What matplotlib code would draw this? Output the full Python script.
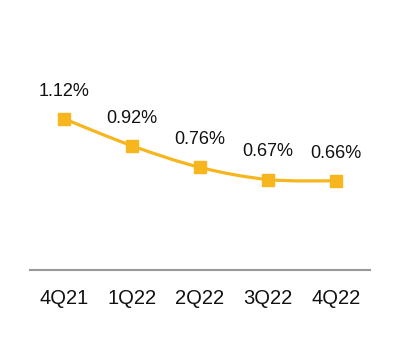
import numpy as np
import matplotlib
matplotlib.use("Agg")
import matplotlib.pyplot as plt
from matplotlib.path import Path
from matplotlib.patches import PathPatch

quarters = ["4Q21", "1Q22", "2Q22", "3Q22", "4Q22"]
ratio = [1.12, 0.92, 0.76, 0.67, 0.66]
labels = ["1.12%", "0.92%", "0.76%", "0.67%", "0.66%"]

gold = "#F7B51E"
plt.rcParams["font.family"] = ["Liberation Sans", "DejaVu Sans"]

fig = plt.figure(figsize=(4, 3.4), dpi=100)
ax = fig.add_axes([0.075, 0.206, 0.85, 0.794])

x = np.arange(len(quarters))
y = np.array(ratio)

# smooth curve through the points (catmull-rom as cubic bezier segments)
verts = [(x[0], y[0])]
codes = [Path.MOVETO]
for i in range(len(x) - 1):
    p0 = (x[max(i - 1, 0)], y[max(i - 1, 0)])
    p1 = (x[i], y[i])
    p2 = (x[i + 1], y[i + 1])
    p3 = (x[min(i + 2, len(x) - 1)], y[min(i + 2, len(x) - 1)])
    c1 = (p1[0] + (p2[0] - p0[0]) / 6, p1[1] + (p2[1] - p0[1]) / 6)
    c2 = (p2[0] - (p3[0] - p1[0]) / 6, p2[1] - (p3[1] - p1[1]) / 6)
    verts += [c1, c2, p2]
    codes += [Path.CURVE4] * 3
ax.add_patch(PathPatch(Path(verts, codes), facecolor="none", edgecolor=gold,
                       lw=2.3, zorder=2))
ax.plot(x, y, "s", color=gold, ms=9, zorder=3)

for xi, yi, lab in zip(x, y, labels):
    ax.annotate(lab, (xi, yi), xytext=(0, 20), textcoords="offset points",
                ha="center", va="center", fontsize=13, color="#111111")

ax.set_xlim(-0.5, 4.5)
ax.set_ylim(0, 2.0)
for s in ["top", "right", "left"]:
    ax.spines[s].set_visible(False)
ax.spines["bottom"].set_color("#999999")
ax.spines["bottom"].set_linewidth(1.5)
ax.set_yticks([])
ax.set_xticks(x)
ax.set_xticklabels(quarters, fontsize=14.5, color="#111111")
ax.tick_params(axis="x", length=0, pad=14)

fig.savefig("out.png", dpi=100)
